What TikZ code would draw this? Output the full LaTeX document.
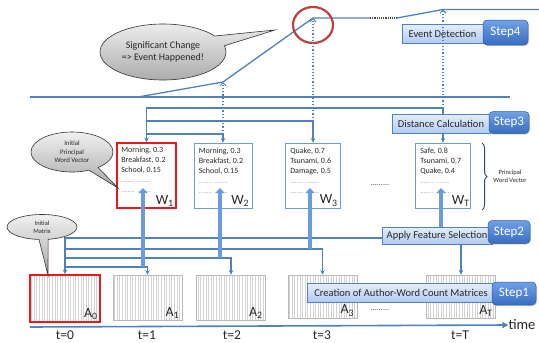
\documentclass[tikz,border=0pt]{standalone}
\usepackage{fontspec}
\setmainfont{Carlito}
\usetikzlibrary{shapes.callouts,shapes.geometric,arrows.meta,decorations.pathreplacing,shadows}
\definecolor{lineblue}{RGB}{79,129,189}
\definecolor{fatblue}{RGB}{105,155,222}
\definecolor{boxtop}{RGB}{230,238,252}
\definecolor{boxbot}{RGB}{176,202,240}
\definecolor{steptop}{RGB}{112,160,230}
\definecolor{stepbot}{RGB}{58,108,192}
\definecolor{wborder}{RGB}{110,155,210}
\definecolor{redbox}{RGB}{235,25,25}
\definecolor{circred}{RGB}{190,65,60}
\definecolor{calltop}{RGB}{240,240,240}
\definecolor{callbot}{RGB}{168,168,168}
\definecolor{txt}{RGB}{40,40,40}
\newcommand{\wdots}{{\color{gray!85}\fontsize{6.5}{6.5}\selectfont ........\ \ ........}}
\begin{document}
\begin{tikzpicture}[x=1pt,y=-1pt,
  link/.style={draw=lineblue, line width=1.3pt},
  linkarrow/.style={link, -{Stealth[length=4.5pt,width=4.5pt]}},
  fat/.style={draw=fatblue, line width=3.6pt, -{Triangle[length=5pt,width=9pt]}},
  dotarrow/.style={draw=lineblue, line width=1.2pt, dotted, -{Straight Barb[length=3pt,width=6pt,line width=1pt]}},
  stepbox/.style={draw=lineblue, line width=0.8pt, top color=boxtop, bottom color=boxbot, font=\fontsize{10.5}{11}\selectfont, text=txt, inner sep=0pt, drop shadow={opacity=0.25, shadow xshift=1pt, shadow yshift=-1pt}},
  steplab/.style={rounded corners=4pt, top color=steptop, bottom color=stepbot, draw=stepbot!85!black, line width=0.5pt, text=white, font=\fontsize{13}{14}\selectfont, inner sep=0pt, drop shadow={opacity=0.3, shadow xshift=1pt, shadow yshift=-1pt}},
  wbox/.style={draw=wborder, line width=0.8pt, fill=white, minimum width=55pt, minimum height=65pt, inner sep=0pt},
  hatch/.style={path picture={\foreach \k in {0,...,30}{\draw[gray!35, line width=0.5pt] ([xshift=\k*2.6pt+1.5pt]path picture bounding box.north west) -- ([xshift=\k*2.6pt+1.5pt]path picture bounding box.south west);}}},
  abox/.style={draw=gray!55, line width=0.8pt, fill=white, hatch, minimum width=69pt, minimum height=45pt, inner sep=0pt},
  redframe/.style={draw=redbox, line width=1.8pt},
  wtext/.style={font=\fontsize{8}{10}\selectfont, align=left, text=txt, inner sep=0pt, anchor=north west},
  sublab/.style={font=\fontsize{14}{15}\selectfont, text=txt, inner sep=0pt, anchor=south east},
  tlab/.style={font=\fontsize{13.5}{14}\selectfont, text=txt, inner sep=0pt, anchor=base},
  dotsep/.style={font=\fontsize{8}{8}\selectfont, text=gray!50!black},
  callout/.style={ellipse callout, draw=gray!40!black, line width=0.6pt, top color=calltop, bottom color=callbot, text=txt, align=center, inner sep=0pt},
]
\useasboundingbox (0,0) rectangle (539,343);

% named coordinates
\coordinate (bl) at (30,97);
\coordinate (br) at (510,97);
\coordinate (c0) at (138,97);
\coordinate (k1) at (223,82);
\coordinate (k2) at (313,18);
\coordinate (k2e) at (370,18);
\coordinate (k3s) at (397,18);
\coordinate (k3) at (443,9.5);
\coordinate (kend) at (539,9.5);
\coordinate (h108) at (0,108);
\coordinate (h121) at (0,121);
\coordinate (h134) at (0,134);
\coordinate (r0) at (65,238);
\coordinate (r1) at (65,249);
\coordinate (r2) at (65,258);
\coordinate (r3) at (65,267);
\coordinate (e188) at (0,188);
\coordinate (f1) at (143,267);
\coordinate (f2) at (220,258);
\coordinate (f3) at (310,249);
\coordinate (axs) at (30,327);

% event curve
\draw[link] (bl) -- (br);
\draw[link] (c0) -- (k1) -- (k2) -- (k2e);
\draw[densely dotted, line width=1.2pt, gray!60!black] (k2e) -- (k3s);
\draw[link] (k3s) -- (k3) -- (kend);
\draw[circred, line width=2.2pt] (313,25) ellipse [x radius=20pt, y radius=18pt];

% W boxes
\node[wbox, minimum width=59pt, redframe] (W1) at (146.5,175.5) {};
\node[wbox, minimum width=58pt] (W2) at (223,175.5) {};
\node[wbox] (W3) at (313,175.5) {};
\node[wbox] (WT) at (443,175.5) {};
\node[wtext] (w1t) at ([xshift=5pt,yshift=-5pt]W1.north west) {Morning, 0.3\\Breakfast, 0.2\\School, 0.15\\\wdots\\\wdots};
\node[wtext] (w2t) at ([xshift=5pt,yshift=-5pt]W2.north west) {Morning, 0.3\\Breakfast, 0.2\\School, 0.15\\\wdots\\\wdots};
\node[wtext] (w3t) at ([xshift=5pt,yshift=-5pt]W3.north west) {Quake, 0.7\\Tsunami, 0.6\\Damage, 0.5\\\wdots\\\wdots};
\node[wtext] (wTt) at ([xshift=5pt,yshift=-5pt]WT.north west) {Safe, 0.8\\Tsunami, 0.7\\Quake, 0.4\\\wdots\\\wdots};
\node[sublab] (w1l) at ([xshift=-3pt,yshift=2pt]W1.south east) {W\textsubscript{1}};
\node[sublab] (w2l) at ([xshift=-3pt,yshift=2pt]W2.south east) {W\textsubscript{2}};
\node[sublab] (w3l) at ([xshift=-3pt,yshift=2pt]W3.south east) {W\textsubscript{3}};
\node[sublab] (wTl) at ([xshift=-1pt,yshift=2pt]WT.south east) {W\textsubscript{T}};
\node[dotsep] (sep1) at (380,185) {.........};

% A boxes
\node[abox, minimum width=70pt, minimum height=47pt, redframe] (A0) at (65,298.5) {};
\node[abox] (A1) at (147.5,297.5) {};
\node[abox] (A2) at (231,297.5) {};
\node[abox, minimum height=43pt] (A3) at (322.5,296.5) {};
\node[abox, minimum height=43pt] (AT) at (461,296.5) {};
\node[sublab] (a0l) at ([xshift=-3pt,yshift=3pt]A0.south east) {A\textsubscript{0}};
\node[sublab] (a1l) at ([xshift=-3pt,yshift=2pt]A1.south east) {A\textsubscript{1}};
\node[sublab] (a2l) at ([xshift=-3pt,yshift=2pt]A2.south east) {A\textsubscript{2}};
\node[sublab] (a3l) at ([xshift=-3pt,yshift=2pt]A3.south east) {A\textsubscript{3}};
\node[sublab] (aTl) at ([xshift=-3pt,yshift=2pt]AT.south east) {A\textsubscript{T}};
\node[dotsep] (sep2) at (380,310) {.........};

% step boxes
\node[stepbox, minimum width=81pt, minimum height=19pt] (evt) at (442.5,33.5) {Event Detection};
\node[steplab, minimum width=45pt, minimum height=25pt] (s4) at (505.5,32.5) {Step4};
\node[stepbox, minimum width=98pt, minimum height=19pt] (dist) at (441,123.5) {Distance Calculation};
\node[steplab, minimum width=40pt, minimum height=22pt] (s3) at (509,122.5) {Step3};
\node[stepbox, minimum width=110pt, minimum height=17pt] (feat) at (437,235.5) {Apply Feature Selection};
\node[steplab, minimum width=42pt, minimum height=23pt] (s2) at (509,232) {Step2};
\node[stepbox, minimum width=188pt, minimum height=19pt] (cre) at (401,292.5) {Creation of Author-Word Count Matrices};
\node[steplab, minimum width=44pt, minimum height=23pt] (s1) at (514,293.5) {Step1};

% top rails (distance calculation)
\draw[linkarrow] (dist.north -| WT.north) |- (W1.north |- h108) -- (W1.north);
\draw[linkarrow] (W1.north |- h121) -| (W3.north);
\draw[linkarrow] (W1.north |- h134) -| (W2.north);
\draw[linkarrow] (dist.south -| WT.north) -- (WT.north);

% dotted arrows to the event curve
\draw[dotarrow] (k1 |- h134) -- (k1);
\draw[dotarrow] (k2 |- h121) -- (k2);
\draw[dotarrow] (k3 |- h108) -- (k3);

% bottom rails (from initial matrix)
\draw[linkarrow] ([yshift=-2.5pt]feat.west) -- (r0) -- (A0.north);
\draw[linkarrow] (r1) -| (A3.north);
\draw[linkarrow] (r2) -| (A2.north);
\draw[linkarrow] (r3) -| (A1.north);
\draw[linkarrow] (AT.north |- feat.south) -- (AT.north);

% feature selection thick arrows
\draw[fat] (f1) -- (f1 |- e188);
\draw[fat] (f2) -- (f2 |- e188);
\draw[fat] (f3) -- (f3 |- e188);
\draw[fat] ([xshift=4pt]feat.north) -- ([xshift=-2pt]WT.center |- e188);

% brace
\draw[decorate, decoration={brace, amplitude=5pt}, draw=lineblue!60!black, line width=1pt] (482,143) -- (482,210);
\node[font=\fontsize{6.5}{8}\selectfont, align=center, text=txt] (pwv) at (510,176) {Principal\\Word Vector};

% time axis
\node[font=\fontsize{14.5}{15}\selectfont, text=txt, inner sep=0pt] (time) at (522,325) {time};
\draw[link, line width=1.6pt, -{Triangle[length=6pt,width=6pt]}] (axs) -- (time.west);
\node[tlab] (t0) at (65,339) {t=0};
\node[tlab] (t1) at (147,339) {t=1};
\node[tlab] (t2) at (232,339) {t=2};
\node[tlab] (t3) at (322,339) {t=3};
\node[tlab] (tT) at (460,339) {t=T};

% callouts
\coordinate (p1) at (275,30);
\coordinate (p2) at (118,188);
\coordinate (p3) at (48,275);
\node[callout, minimum width=126pt, minimum height=56pt, callout absolute pointer={(p1)}, callout pointer arc=22, font=\fontsize{10}{12}\selectfont] (sig) at (163,52) {Significant Change\\=> Event Happened!};
\node[callout, minimum width=82pt, minimum height=40pt, callout absolute pointer={(p2)}, font=\fontsize{6.8}{8.5}\selectfont] (ipw) at (72,152) {Initial\\Principal\\Word Vector};
\node[callout, minimum width=70pt, minimum height=25pt, callout absolute pointer={(p3)}, font=\fontsize{6.5}{8}\selectfont] (imx) at (42,227) {Initial\\Matrix};
\end{tikzpicture}
\end{document}
